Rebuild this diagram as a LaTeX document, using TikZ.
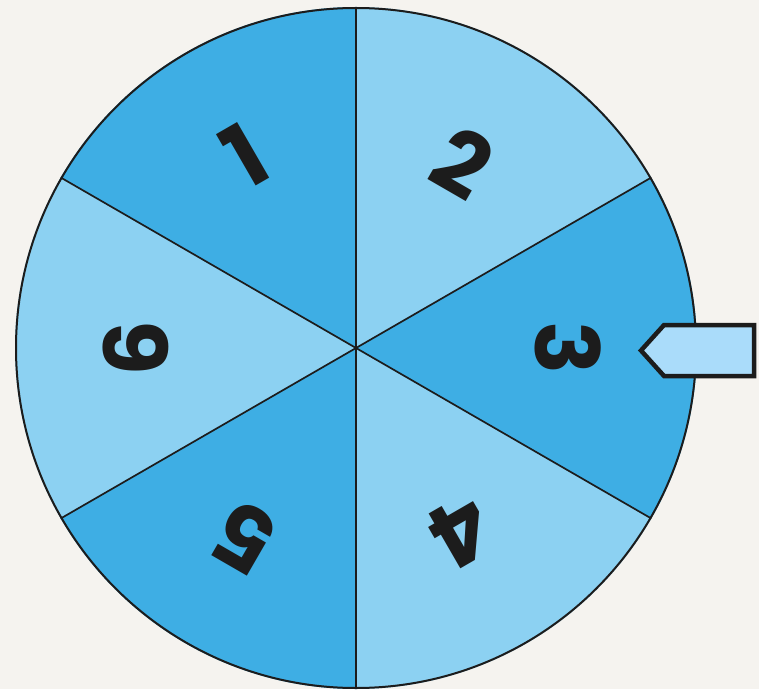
\documentclass[tikz,border=0pt]{standalone}
\usepackage{fontspec}
\setmainfont{Poppins}
\usepackage{tikz}
\usetikzlibrary{calc,positioning}
\definecolor{spinDark}{RGB}{62,174,228}
\definecolor{spinLight}{RGB}{140,209,242}
\definecolor{spinEdge}{RGB}{28,28,28}
\definecolor{pointerBlue}{RGB}{170,220,250}
\definecolor{paperBg}{RGB}{245,243,239}

\begin{document}
\begin{tikzpicture}[x=1pt,y=1pt,
  digit/.style={text=spinEdge, font=\fontsize{88}{88}\selectfont\bfseries, inner sep=0pt},
  spoke/.style={spinEdge, line width=1.7pt}]
\fill[paperBg] (0,0) rectangle (759,689);
\useasboundingbox (0,0) rectangle (759,689);
\coordinate (hub) at (356,341);
% six sectors
\fill[spinDark] (hub) -- ++(90:341pt) arc[start angle=90, end angle=150, radius=341pt] -- cycle;
\fill[spinLight] (hub) -- ++(150:341pt) arc[start angle=150, end angle=210, radius=341pt] -- cycle;
\fill[spinDark] (hub) -- ++(210:341pt) arc[start angle=210, end angle=270, radius=341pt] -- cycle;
\fill[spinLight] (hub) -- ++(270:341pt) arc[start angle=270, end angle=330, radius=341pt] -- cycle;
\fill[spinDark] (hub) -- ++(330:341pt) arc[start angle=330, end angle=390, radius=341pt] -- cycle;
\fill[spinLight] (hub) -- ++(30:341pt) arc[start angle=30, end angle=90, radius=341pt] -- cycle;
\draw[spoke] ($(hub)+(90:341pt)$) -- ($(hub)+(270:341pt)$);
\draw[spoke] ($(hub)+(30:341pt)$) -- ($(hub)+(210:341pt)$);
\draw[spoke] ($(hub)+(150:341pt)$) -- ($(hub)+(330:341pt)$);
\draw[spinEdge, line width=2pt] (hub) circle[radius=340pt];
% numbers, tops facing out
\node[digit, rotate=30] (one) at ($(hub)+(120:222pt)$) {1};
\node[digit, rotate=-30] (two) at ($(hub)+(60:214pt)$) {2};
\node[digit, rotate=-90] (three) at ($(hub)+(0:212pt)$) {3};
\node[digit, rotate=-150] (four) at ($(hub)+(300:212pt)$) {4};
\node[digit, rotate=150] (five) at ($(hub)+(240:220pt)$) {5};
\node[digit, rotate=90] (six) at ($(hub)+(180:220pt)$) {6};
% pointer
\draw[spinEdge, fill=pointerBlue, line width=4.5pt, line join=miter]
  (754,364) -- (664,364) -- (641,338.5) -- (664,313) -- (754,313) -- cycle;
\end{tikzpicture}
\end{document}
